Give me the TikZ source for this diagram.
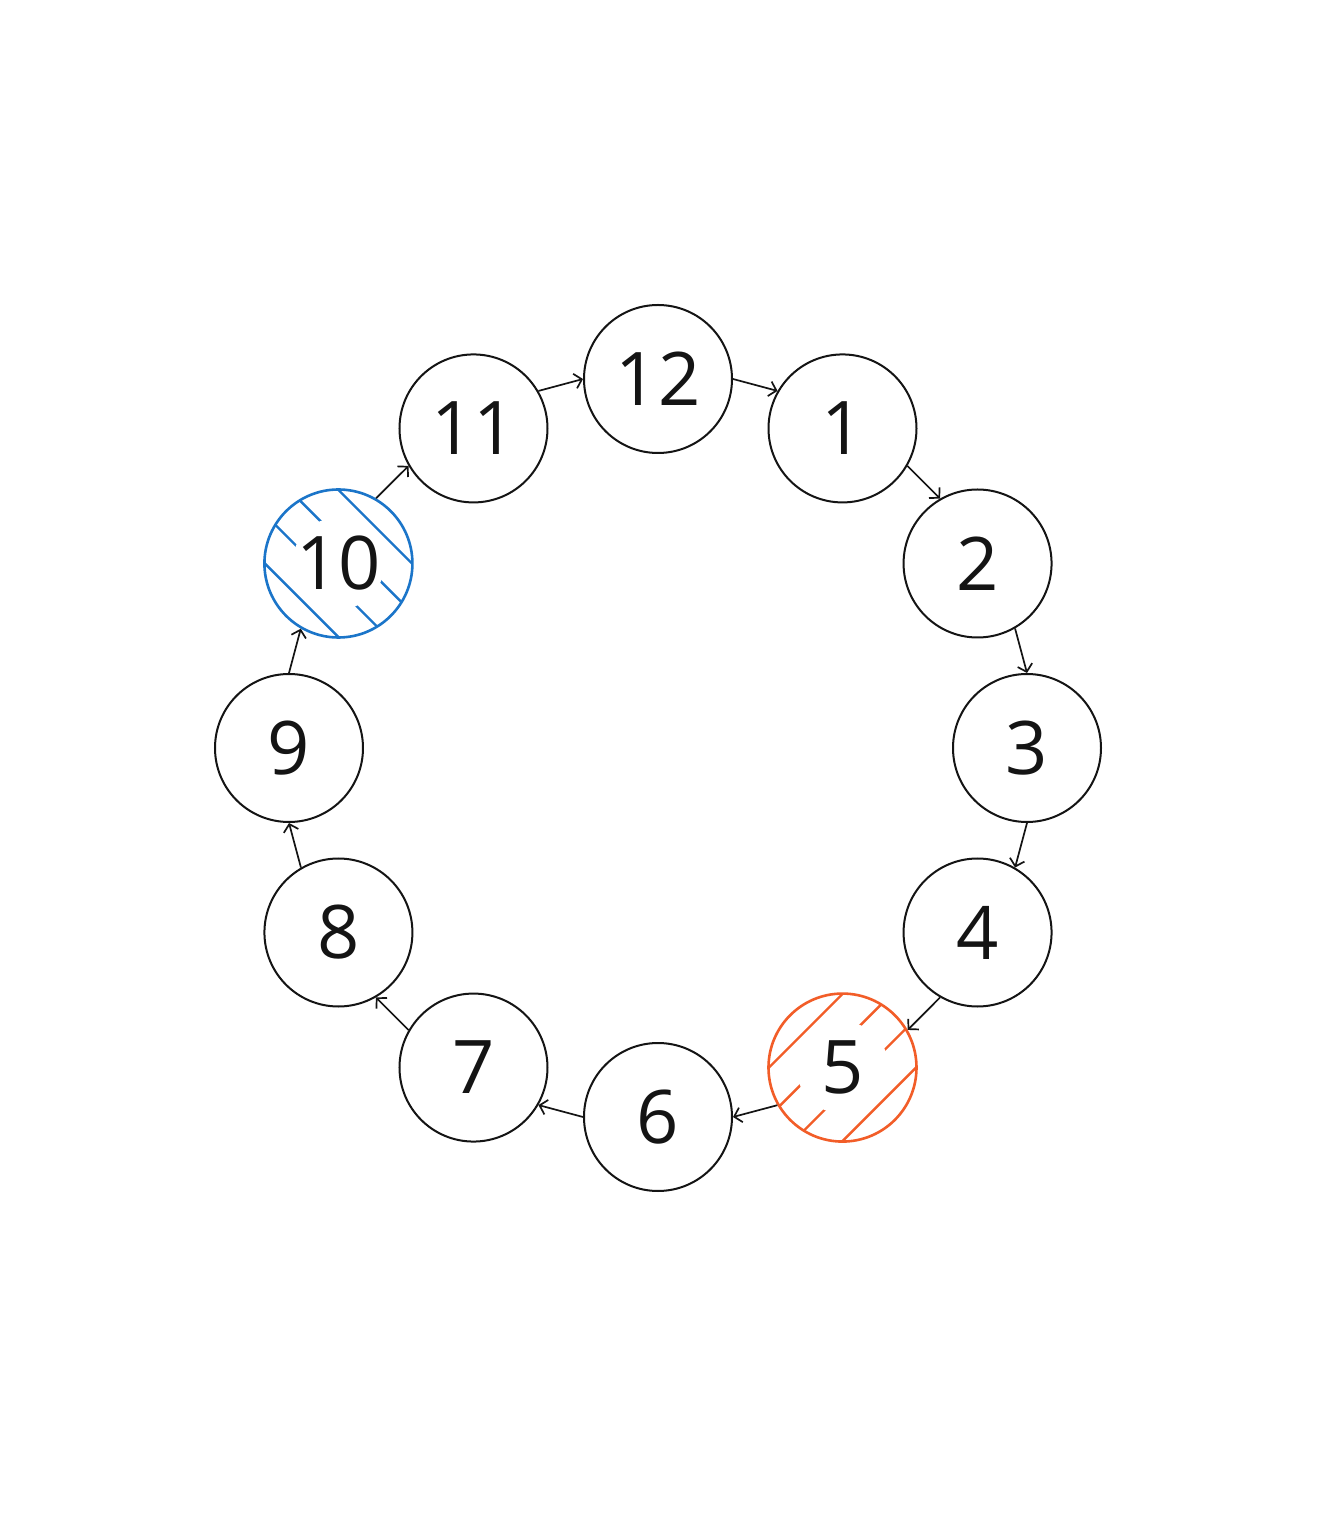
\documentclass[tikz,border=0pt]{standalone}
\usepackage{fontspec}
\setmainfont{Open Sans}
\usetikzlibrary{arrows.meta,calc}
\definecolor{hblue}{RGB}{27,117,201}
\definecolor{horange}{RGB}{242,93,40}
\definecolor{ink}{RGB}{20,20,20}
\begin{document}
\begin{tikzpicture}[x=0.5pt,y=0.5pt,
  ringnode/.style={circle,draw=ink,line width=1pt,minimum size=74pt,inner sep=0pt,
    font=\fontsize{37}{44}\selectfont,text=ink},
  bluenode/.style={ringnode,draw=hblue,line width=1.3pt},
  orangenode/.style={ringnode,draw=horange,line width=1.3pt},
  hatchline/.style={line width=1.2pt},
  arr/.style={draw=ink,line width=0.85pt,-{Straight Barb[length=3.5pt,width=7.5pt]}}]
\useasboundingbox (-658,-782) rectangle (668,748);
\fill[white] (-658,-782) rectangle (668,748);
% centres
\foreach \k in {1,...,12} \coordinate (c\k) at ({90-30*\k}:369);
% hatching of node 10
\begin{scope}
  \clip (c10) circle (74);
  \foreach \o in {-52,-17.3,17.3,52}
    \draw[hatchline,hblue] ($(c10)+(45:\o)+(-45:90)$) -- ($(c10)+(45:\o)+(135:90)$);
\end{scope}
\fill[white] (c10) circle (46);
% hatching of node 5
\begin{scope}
  \clip (c5) circle (74);
  \foreach \o in {-52,-17.3,17.3,52}
    \draw[hatchline,horange] ($(c5)+(-45:\o)+(45:90)$) -- ($(c5)+(-45:\o)+(225:90)$);
\end{scope}
\fill[white] (c5) circle (46);
% nodes
\foreach \k in {1,2,3,4,6,7,8,9,11,12} \node[ringnode] (n\k) at (c\k) {\k};
\node[bluenode] (n10) at (c10) {10};
\node[orangenode] (n5) at (c5) {5};
% arrows
\draw[arr] (n12.0) -- (n1.150);
\draw[arr] (n1.-30) -- (n2.120);
\draw[arr] (n2.-60) -- (n3.90);
\draw[arr] (n3.-90) -- (n4.60);
\draw[arr] (n4.-120) -- (n5.30);
\draw[arr] (n5.-150) -- (n6.0);
\draw[arr] (n6.180) -- (n7.-30);
\draw[arr] (n7.150) -- (n8.-60);
\draw[arr] (n8.120) -- (n9.-90);
\draw[arr] (n9.90) -- (n10.-120);
\draw[arr] (n10.60) -- (n11.-150);
\draw[arr] (n11.30) -- (n12.180);
\end{tikzpicture}
\end{document}
